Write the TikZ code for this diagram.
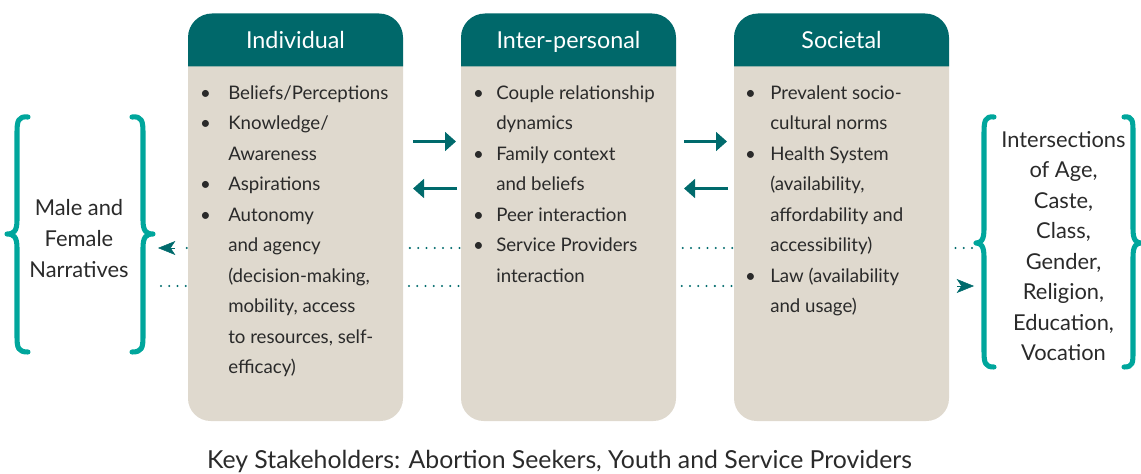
\documentclass[tikz,border=0pt]{standalone}
\usepackage{fontspec}
\setmainfont{Lato}
\usetikzlibrary{arrows.meta}
\definecolor{headteal}{HTML}{00686A}
\definecolor{bodybeige}{HTML}{DFD9CE}
\definecolor{braceteal}{HTML}{00A69C}
\definecolor{arrteal}{HTML}{006A6C}
\definecolor{txtgray}{HTML}{2A2A2A}
\tikzset{
  bodytxt/.style={font=\fontsize{14}{16}\selectfont, text=txtgray, anchor=base west, inner sep=0pt},
  bul/.style={font=\fontsize{14}{16}\selectfont, text=txtgray, anchor=base, inner sep=0pt},
  headtxt/.style={font=\fontsize{17.5}{20}\selectfont, text=white, anchor=base, inner sep=0pt},
  sidetxt/.style={font=\fontsize{16.4}{18}\selectfont, text=txtgray, anchor=base, inner sep=0pt},
  captxt/.style={font=\fontsize{18.6}{22}\selectfont, text=txtgray, anchor=base, inner sep=0pt},
  headbox/.style={fill=headteal},
  bodybox/.style={fill=bodybeige},
  solidarr/.style={draw=arrteal, line width=2.2pt, -{Triangle[length=8.25pt,width=14pt]}},
  dotline/.style={draw=arrteal, line width=1.7pt, line cap=round, dash pattern=on 0pt off 6.2pt},
  dottip/.style={draw=arrteal, line width=0.4pt, -{Stealth[length=13pt,width=10.5pt,inset=3.5pt]}},
  bracestroke/.style={draw=braceteal, line width=3.8pt, line cap=round, line join=round},
}
\begin{document}
\begin{tikzpicture}[x=0.75pt,y=-0.75pt]
\useasboundingbox (0,0) rectangle (1141,474);

% dotted connectors (behind the boxes)
\coordinate (d1s) at (972,248);
\coordinate (d1m) at (180,248);
\coordinate (d1t) at (175,248);
\coordinate (d1e) at (158,248);
\coordinate (d2s) at (161,286);
\coordinate (d2m) at (953,286);
\coordinate (d2t) at (957,286);
\coordinate (d2e) at (974,286);
\draw[dotline] (d1s) -- (d1m);
\draw[dottip] (d1t) -- (d1e);
\draw[dotline] (d2s) -- (d2m);
\draw[dottip] (d2t) -- (d2e);

% boxes
\foreach \bx/\nm in {188/ind,461/int,734/soc}{
  \fill[bodybox] (\bx,60) [rounded corners=17pt] -- (\bx,421) -- ({\bx+215},421) [sharp corners] -- ({\bx+215},60) -- cycle;
  \fill[headbox] (\bx,66.5) [rounded corners=18pt] -- (\bx,13.5) -- ({\bx+215},13.5) [sharp corners] -- ({\bx+215},66.5) -- cycle;
}

% headers
\node[headtxt] (hind) at (295.5,48.3) {Individual};
\node[headtxt] (hint) at (568.5,48.3) {Inter-personal};
\node[headtxt] (hsoc) at (841.5,48.3) {Societal};

% Individual
\foreach \t [count=\i] in {Beliefs/Perceptions,Knowledge/,Awareness,Aspirations,Autonomy,and agency,{(decision-making,},{mobility, access},{to resources, self-},efficacy)}
  \node[bodytxt] (ind\i) at (228,{99.5+30.45*(\i-1)}) {\t};
\foreach \i in {1,2,4,5}
  \node[bul] (bind\i) at (205.5,{99.5+30.45*(\i-1)}) {•};

% Inter-personal
\foreach \t [count=\i] in {Couple relationship,dynamics,Family context,and beliefs,Peer interaction,Service Providers,interaction}
  \node[bodytxt] (int\i) at (496,{99.5+30.45*(\i-1)}) {\t};
\foreach \i in {1,3,5,6}
  \node[bul] (bint\i) at (478.5,{99.5+30.45*(\i-1)}) {•};

% Societal
\foreach \t [count=\i] in {Prevalent socio-,cultural norms,Health System,{(availability,},affordability and,accessibility),Law (availability,and usage)}
  \node[bodytxt] (soc\i) at (770,{99.5+30.45*(\i-1)}) {\t};
\foreach \i in {1,3,7}
  \node[bul] (bsoc\i) at (750.5,{99.5+30.45*(\i-1)}) {•};

% solid arrows between boxes
\coordinate (a1s) at (413,141.5); \coordinate (a1e) at (456,141.5);
\coordinate (a2s) at (457,188.5); \coordinate (a2e) at (413,188.5);
\coordinate (a3s) at (684,141.5); \coordinate (a3e) at (727,141.5);
\coordinate (a4s) at (728,188.5); \coordinate (a4e) at (684,188.5);
\draw[solidarr] (a1s) -- (a1e);
\draw[solidarr] (a2s) -- (a2e);
\draw[solidarr] (a3s) -- (a3e);
\draw[solidarr] (a4s) -- (a4e);

% braces
\draw[bracestroke] (28,117) .. controls (18,116) and (17,121) .. (17,133) -- (17,220) .. controls (17,231) and (14,234) .. (7,234) .. controls (14,234) and (17,237) .. (17,248) -- (17,336) .. controls (17,348) and (18,352) .. (28,352);
\draw[bracestroke] (132,117) .. controls (142,116) and (143,121) .. (143,133) -- (143,220) .. controls (143,231) and (146,234) .. (153,234) .. controls (146,234) and (143,237) .. (143,248) -- (143,336) .. controls (143,348) and (142,352) .. (132,352);
\draw[bracestroke] (994,117) .. controls (985,116) and (984,121) .. (984,133) -- (984,229) .. controls (984,240) and (981,243) .. (976,243) .. controls (981,243) and (984,246) .. (984,257) -- (984,351) .. controls (984,363) and (985,367) .. (994,367);
\draw[bracestroke] (1124,117) .. controls (1133,116) and (1133,121) .. (1133,133) -- (1133,229) .. controls (1133,240) and (1136,243) .. (1141,243) .. controls (1136,243) and (1133,246) .. (1133,257) -- (1133,351) .. controls (1133,363) and (1133,367) .. (1124,367);

% side texts
\foreach \t [count=\i] in {Male and,Female,Narratives}
  \node[sidetxt] (mf\i) at (79,{215+31*(\i-1)}) {\t};
\foreach \t [count=\i] in {Intersections,{of Age,},{Caste,},{Class,},{Gender,},{Religion,},{Education,},Vocation}
  \node[sidetxt] (is\i) at (1063.5,{147+30.5*(\i-1)}) {\t};

% caption
\node[captxt] (cap) at (559.5,468.5) {Key Stakeholders: Abortion Seekers, Youth and Service Providers};
\end{tikzpicture}
\end{document}
